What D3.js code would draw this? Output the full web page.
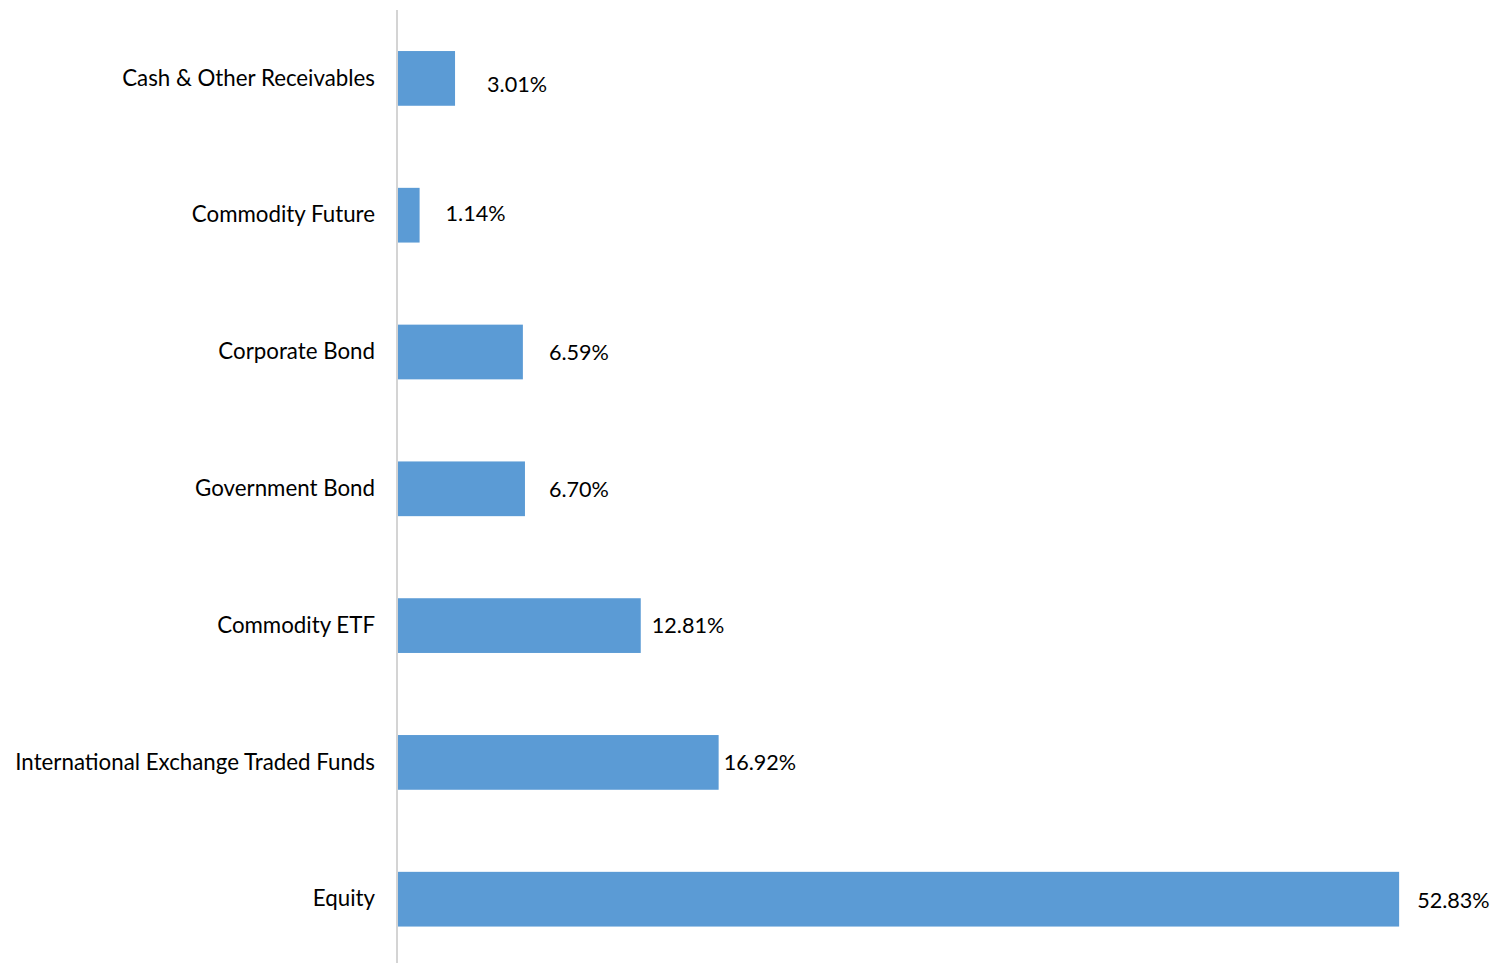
<!DOCTYPE html>
<html>
<head>
<meta charset="utf-8">
<script src="https://cdn.jsdelivr.net/npm/d3@7"></script>
<style>
  body { margin: 0; background: #fff; }
  text { font-family: Lato, "Open Sans", sans-serif; fill: #000; }
</style>
</head>
<body>
<div id="chart"></div>
<script>
const categories = ['Cash & Other Receivables', 'Commodity Future', 'Corporate Bond', 'Government Bond',
    'Commodity ETF', 'International Exchange Traded Funds', 'Equity'];
const values = [3.01, 1.14, 6.59, 6.70, 12.81, 16.92, 52.83];
const valueLabels = ['3.01%', '1.14%', '6.59%', '6.70%', '12.81%', '16.92%', '52.83%'];

// excel placed the data labels a bit unevenly, nudge them to match
const labelNudgeX = [32, 26, 26, 24, 11, 5, 18];
const labelNudgeY = [6, -2, 0, 1, 0, 0, 1];

const barColor = '#5b9bd5';
const width = 1490, height = 963;
const left = 398;

const svg = d3.select('#chart')
    .append('svg')
    .attr('width', width)
    .attr('height', height);

const x = d3.scaleLinear()
    .domain([0, 55])
    .range([left, left + 55 * 18.95]);

const y = d3.scaleBand()
    .domain(categories)
    .range([10, 967.6])
    .paddingInner(0.6)
    .paddingOuter(0.3);

// bars
svg.selectAll('rect.bar')
    .data(categories)
    .enter()
    .append('rect')
    .attr('class', 'bar')
    .attr('x', x(0))
    .attr('y', d => y(d))
    .attr('width', (d, i) => x(values[i]) - x(0))
    .attr('height', y.bandwidth())
    .attr('fill', barColor);

// axis line + category labels
const axis = svg.append('g')
    .attr('transform', `translate(${left - 1}, 0)`)
    .call(d3.axisLeft(y).tickSize(0).tickPadding(22).tickSizeOuter(0));
axis.select('.domain')
    .attr('stroke', '#d4d4d4')
    .attr('stroke-width', 2)
    .attr('d', `M0,10V${height}`);
axis.selectAll('text')
    .style('font-size', '22.3px')
    .style('font-family', 'Lato, "Open Sans", sans-serif')
    .attr('fill', '#000');

// value labels
svg.selectAll('text.val')
    .data(categories)
    .enter()
    .append('text')
    .attr('class', 'val')
    .attr('x', (d, i) => x(values[i]) + labelNudgeX[i])
    .attr('y', (d, i) => y(d) + y.bandwidth() / 2 + labelNudgeY[i])
    .attr('dy', '0.35em')
    .style('font-size', '21.6px')
    .text((d, i) => valueLabels[i]);
</script>
</body>
</html>
